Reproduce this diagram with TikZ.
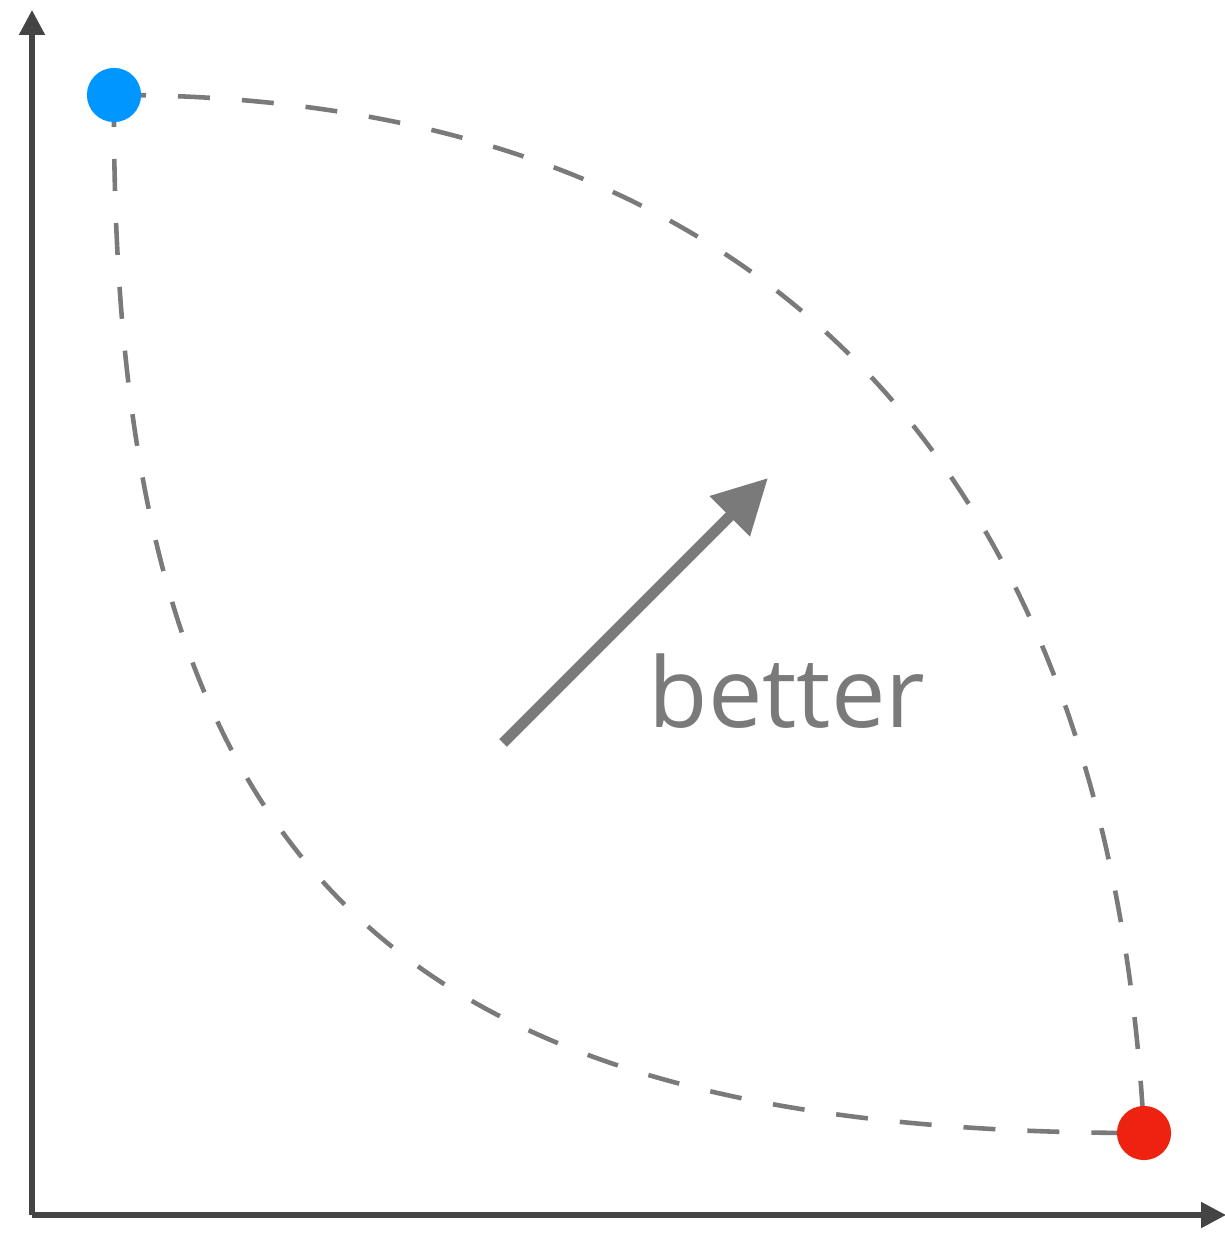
\documentclass[tikz,border=0pt]{standalone}
\usepackage{fontspec}
\setmainfont{Open Sans}
\usetikzlibrary{arrows.meta,positioning}
\definecolor{PFAxis} {HTML}{444444}
\definecolor{PFGray} {HTML}{7A7A7A}
\definecolor{PFBlue} {HTML}{0096FF}
\definecolor{PFRed}  {HTML}{EE2211}
\tikzset{
  axisline/.style={draw=PFAxis,line width=1.45pt,-{Triangle[length=7.1pt,width=7.1pt]}},
  frontline/.style={draw=PFGray,line width=1.3pt,dash pattern=on 9.1pt off 9.1pt},
  enddot/.style={circle,inner sep=0pt,minimum size=15.4pt},
}
\begin{document}
\begin{tikzpicture}[x=0.01cm,y=-0.01cm]
    \useasboundingbox (0,0) rectangle (1224,1234);
    % axes
    \coordinate (origin) at (32,1215);
    \coordinate (ytip) at (32,10);
    \coordinate (xtip) at (1226,1215);
    \draw[axisline] (origin) -- (ytip);
    \draw[axisline] (origin) -- (xtip);

    % the two fronts
    \coordinate (pblue) at (114,95);
    \coordinate (pred)  at (1144,1133);
    \draw[frontline] (pblue) .. controls (774,95) and (1110,480) .. (pred);
    \draw[frontline] (pblue) .. controls (110,860) and (380,1133) .. (pred);

    % end points
    \node[enddot,fill=PFBlue] (blue) at (pblue){};
    \node[enddot,fill=PFRed]  (red)  at (pred){};

    % direction
    \coordinate (arrstart) at (503,743);
    \coordinate (arrtip)   at (768,478);
    \draw[PFGray,line width=3.1pt,-{Triangle[length=15.4pt,width=15.4pt]}]
      (arrstart) -- (arrtip);
    \node[anchor=base west,inner sep=0pt,text=PFGray,font=\fontsize{27.6}{33}\selectfont]
      (better) at (648,727){better};
  \end{tikzpicture}
\end{document}
